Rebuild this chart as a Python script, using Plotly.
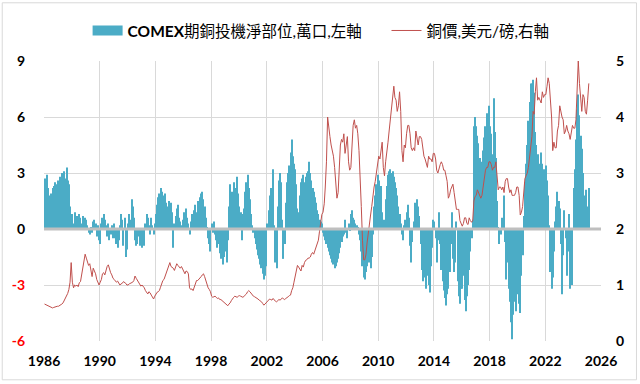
import pandas as pd
import plotly.graph_objects as go

# ---- data (monthly, Jan 1986 - Feb 2025) ----
start_month = "1986-01-01"

# COMEX copper speculative net position, 10k contracts (left axis)
net_position = [
    2.7, 2.6, 2.9, 2.2, 1.8, 1.4, 1.9, 2.2, 2.3, 2.5, 2.0, 2.4,      # 1986
    2.6, 2.8, 2.5, 3.0, 2.9, 3.1, 2.7, 3.3, 2.6, 2.4, 1.2, 0.5,      # 1987
    0.8, 0.3, 0.9, 0.5, 0.7, 0.4, 0.8, 0.6, 0.3, 0.7, 0.5, 0.6,      # 1988
    0.5, 0.2, -0.2, -0.3, 0.1, -0.2, 0.4, 0.5, 0.3, -0.4, 0.2, -0.6,  # 1989
    -0.8, 0.3, 0.6, 0.8, 0.5, 0.2, -0.4, 0.3, -0.6, -0.3, 0.2, -0.5,  # 1990
    0.3, -0.5, -0.8, -1.0, -0.6, 0.2, 0.8, 0.5, -0.9, 0.6, -1.5, -1.1,  # 1991
    0.3, 0.8, 0.5, 1.6, 1.2, 0.6, -0.6, -0.9, -0.8, -0.4, -0.9, -0.7,  # 1992
    -1.0, -0.6, -0.9, 0.3, 0.8, 0.6, 0.2, -0.3, 0.6, 0.2, -0.3, 0.3,  # 1993
    0.8, 1.3, 1.7, 1.9, 2.2, 2.0, 1.8, 1.6, 1.9, 1.4, 1.2, 1.5,      # 1994
    1.2, 1.4, 0.9, -1.0, 0.3, 0.7, 1.1, 1.3, 0.6, 0.4, 0.2, 0.5,     # 1995
    0.9, 0.2, 1.1, 0.6, 0.3, -0.3, 0.4, 0.8, 0.2, 1.0, 1.3, 0.9,     # 1996
    1.5, 1.2, 1.7, 1.9, 2.0, 1.6, 1.2, 0.6, 0.1, -0.5, -0.8, -1.2,   # 1997
    0.3, -0.2, 0.4, -0.3, -0.6, -1.0, -0.8, -1.3, -1.6, -1.1, -1.9, -1.5,  # 1998
    -1.2, -1.8, -0.6, 1.2, 2.4, 1.5, 2.0, 2.5, 1.3, 2.2, 2.8, 1.9,   # 1999
    1.2, 0.9, -0.6, 0.8, 1.1, 2.0, 2.5, 2.9, 2.2, 1.6, 0.8, 0.2,     # 2000
    -0.2, -0.5, -0.8, -1.1, -1.4, -1.6, -1.9, -2.1, -2.4, -2.7, -2.5, -2.0,  # 2001
    0.3, 1.0, 1.8, 2.2, 1.5, 3.2, 0.2, -1.8, -2.1, 1.2, 2.6, 3.0,    # 2002
    2.5, 0.5, -1.6, -0.8, 1.4, 2.5, 3.0, 3.4, 4.1, 4.8, 3.9, 3.5,    # 2003
    3.2, 2.4, 1.1, 0.9, 1.8, 2.5, 2.7, 2.9, 2.5, 2.8, 3.0, 3.1,      # 2004
    3.6, 3.0, 2.6, 2.2, 2.0, 1.7, 1.4, 1.0, 0.8, 0.5, 0.4, 0.3,      # 2005
    -0.2, -0.4, -0.6, -0.8, -1.0, -1.2, -1.4, -1.6, -1.8, -1.9, -2.1, -2.0,  # 2006
    -1.8, -1.6, -1.3, -1.0, -0.7, -0.4, -0.3, 0.5, -0.2, -0.5, 0.3, -0.1,   # 2007
    0.8, 1.0, 0.6, 0.5, 0.3, 0.2, 0.1, -0.3, -0.6, -1.2, -2.0, -2.6,  # 2008
    -2.7, -2.3, -2.0, -1.6, -1.8, -2.1, -1.5, -0.3, 1.2, 1.8, 2.4, 2.9,  # 2009
    2.6, 1.8, 2.3, 0.9, 0.1, 0.5, 1.6, 2.3, 2.9, 3.1, 3.2, 3.0,      # 2010
    3.1, 2.8, 2.5, 2.2, 1.8, 1.2, 0.8, 0.3, -0.3, -0.6, 0.2, 0.5,    # 2011
    0.9, 1.3, 0.6, -0.9, -1.8, -0.7, 0.4, 1.4, 0.8, 1.6, 1.2, 0.7,   # 2012
    -0.8, -2.2, -2.8, -2.3, -2.6, -3.2, -2.5, -3.0, -3.4, -2.0, -1.0, 0.5,  # 2013
    0.4, -0.5, -1.8, -0.6, 0.9, -0.8, -2.2, -2.8, -3.3, -3.7, -4.1, -3.5,   # 2014
    -3.2, -2.3, -0.8, 0.9, -1.6, -2.3, -1.8, 0.4, -2.8, -3.6, -4.0, -3.2,   # 2015
    -3.2, -2.5, -3.8, -4.4, -3.6, -3.0, -2.2, -1.2, -0.5, 0.5, 5.5, 6.0,    # 2016
    5.5, 5.0, 4.6, 3.8, 3.2, 3.6, 4.2, 4.9, 5.5, 6.2, 5.2, 6.6,      # 2017
    5.5, 5.1, 4.0, 7.0, 5.2, 3.8, 1.5, 0.1, -0.8, -0.3, 0.6, 0.2,    # 2018
    1.8, -0.7, -2.7, -1.8, -3.2, -3.9, -5.0, -5.9, -4.6, -3.9, -4.4, -3.5,  # 2019
    -2.8, -4.0, -4.5, -2.5, -1.4, 0.7, 2.5, 3.5, 4.5, 5.8, 6.8, 7.8,  # 2020
    7.8, 8.0, 7.3, 5.2, 4.5, 4.0, 3.5, 3.0, 4.1, 3.5, 3.2, 3.0,      # 2021
    3.4, 2.6, 1.8, 0.2, -2.3, -3.2, -2.6, -1.2, 0.4, 1.2, 2.0, 1.5,  # 2022
    1.1, -0.8, -3.5, -1.4, 1.0, -0.5, -2.5, -1.2, 0.8, -3.2, -1.6, -3.0,  # 2023
    2.2, 3.2, 4.8, 6.4, 7.2, 6.1, 5.0, 4.3, 3.0, 1.8, 1.4, 2.1,      # 2024
    1.2, 2.2,                                                          # 2025
]

# Copper price, USD/lb (right axis)
copper_price = [
    0.66, 0.65, 0.64, 0.63, 0.61, 0.60, 0.59, 0.59, 0.60, 0.61, 0.61, 0.62,  # 1986
    0.62, 0.63, 0.65, 0.66, 0.68, 0.72, 0.78, 0.82, 0.85, 0.92, 1.05, 1.40,  # 1987
    1.05, 0.95, 1.00, 0.98, 1.00, 0.97, 1.04, 1.06, 1.18, 1.30, 1.45, 1.55,  # 1988
    1.48, 1.42, 1.35, 1.38, 1.25, 1.15, 1.30, 1.25, 1.20, 1.10, 1.05, 1.00,  # 1989
    1.05, 1.10, 1.20, 1.22, 1.18, 1.28, 1.33, 1.36, 1.28, 1.22, 1.18, 1.12,  # 1990
    1.10, 1.08, 1.05, 1.07, 1.04, 1.00, 1.02, 1.03, 1.06, 1.05, 1.03, 1.00,  # 1991
    1.00, 1.02, 1.03, 1.04, 1.05, 1.08, 1.16, 1.12, 1.08, 1.04, 1.00, 0.98,  # 1992
    1.00, 0.98, 0.95, 0.90, 0.86, 0.84, 0.88, 0.86, 0.82, 0.78, 0.75, 0.80,  # 1993
    0.85, 0.87, 0.88, 0.90, 0.96, 1.02, 1.08, 1.10, 1.16, 1.22, 1.28, 1.34,  # 1994
    1.40, 1.33, 1.32, 1.30, 1.26, 1.35, 1.38, 1.35, 1.32, 1.30, 1.33, 1.28,  # 1995
    1.22, 1.20, 1.25, 1.24, 1.20, 0.95, 0.92, 0.93, 0.90, 0.96, 1.05, 1.08,  # 1996
    1.08, 1.10, 1.12, 1.15, 1.18, 1.20, 1.15, 1.08, 1.00, 0.95, 0.92, 0.88,  # 1997
    0.80, 0.78, 0.79, 0.80, 0.78, 0.76, 0.77, 0.74, 0.74, 0.72, 0.71, 0.68,  # 1998
    0.66, 0.64, 0.63, 0.66, 0.68, 0.72, 0.76, 0.78, 0.80, 0.79, 0.78, 0.80,  # 1999
    0.81, 0.80, 0.79, 0.78, 0.80, 0.82, 0.84, 0.88, 0.90, 0.88, 0.85, 0.82,  # 2000
    0.80, 0.79, 0.78, 0.76, 0.75, 0.73, 0.72, 0.70, 0.67, 0.64, 0.66, 0.68,  # 2001
    0.70, 0.72, 0.75, 0.74, 0.73, 0.76, 0.73, 0.71, 0.70, 0.72, 0.74, 0.73,  # 2002
    0.76, 0.77, 0.75, 0.74, 0.76, 0.77, 0.79, 0.81, 0.82, 0.90, 0.95, 1.05,  # 2003
    1.15, 1.30, 1.35, 1.32, 1.28, 1.25, 1.35, 1.32, 1.40, 1.44, 1.45, 1.48,  # 2004
    1.48, 1.50, 1.55, 1.58, 1.55, 1.62, 1.65, 1.72, 1.80, 1.96, 2.10, 2.26,  # 2005
    2.30, 2.45, 2.75, 3.20, 4.00, 3.75, 3.65, 3.50, 3.40, 3.30, 3.10, 2.85,  # 2006
    2.55, 2.65, 3.05, 3.50, 3.60, 3.55, 3.70, 3.35, 3.50, 3.65, 3.20, 3.05,  # 2007
    3.10, 3.55, 3.85, 3.95, 3.80, 3.85, 3.70, 3.40, 3.00, 2.40, 1.80, 1.45,  # 2008
    1.45, 1.55, 1.75, 1.95, 2.10, 2.25, 2.40, 2.65, 2.75, 2.85, 3.00, 3.20,  # 2009
    3.30, 3.25, 3.45, 3.55, 3.10, 2.95, 3.20, 3.35, 3.55, 3.75, 3.95, 4.25,  # 2010
    4.40, 4.55, 4.35, 4.30, 4.10, 4.20, 4.45, 4.10, 3.40, 3.20, 3.50, 3.45,  # 2011
    3.70, 3.85, 3.85, 3.70, 3.45, 3.40, 3.45, 3.40, 3.75, 3.60, 3.50, 3.65,  # 2012
    3.65, 3.60, 3.45, 3.30, 3.25, 3.15, 3.10, 3.30, 3.25, 3.25, 3.20, 3.35,  # 2013
    3.35, 3.25, 3.05, 3.00, 3.10, 3.15, 3.20, 3.15, 3.05, 3.05, 2.95, 2.85,  # 2014
    2.55, 2.60, 2.70, 2.75, 2.80, 2.65, 2.45, 2.35, 2.35, 2.35, 2.15, 2.10,  # 2015
    2.05, 2.10, 2.20, 2.20, 2.10, 2.08, 2.20, 2.15, 2.12, 2.15, 2.50, 2.58,  # 2016
    2.60, 2.70, 2.65, 2.60, 2.55, 2.60, 2.75, 2.95, 3.05, 3.10, 3.10, 3.20,  # 2017
    3.20, 3.15, 3.05, 3.10, 3.10, 3.20, 2.85, 2.70, 2.75, 2.75, 2.70, 2.75,  # 2018
    2.65, 2.85, 2.90, 2.90, 2.75, 2.65, 2.70, 2.60, 2.60, 2.60, 2.65, 2.75,  # 2019
    2.75, 2.60, 2.25, 2.30, 2.40, 2.60, 2.90, 2.95, 3.00, 3.10, 3.30, 3.55,  # 2020
    3.65, 4.10, 4.05, 4.45, 4.70, 4.30, 4.35, 4.30, 4.25, 4.45, 4.35, 4.40,  # 2021
    4.40, 4.55, 4.70, 4.60, 4.30, 4.00, 3.40, 3.55, 3.45, 3.45, 3.75, 3.85,  # 2022
    4.20, 4.05, 4.00, 3.95, 3.70, 3.75, 3.85, 3.75, 3.70, 3.60, 3.75, 3.85,  # 2023
    3.80, 3.80, 3.95, 4.40, 5.00, 4.60, 4.30, 4.10, 4.40, 4.35, 4.10, 4.05,  # 2024
    4.30, 4.60,                                                              # 2025
]

x_tick_years = ["1986", "1990", "1994", "1998", "2002", "2006", "2010",
                "2014", "2018", "2022", "2026"]
left_ticks = [-6, -3, 0, 3, 6, 9]
right_ticks = [0, 1, 2, 3, 4, 5]

NBSP = "\u00a0"
bar_name = "<b>COMEX</b>期銅投機淨部位,萬口,左軸" + NBSP * 5
line_name = "銅價,美元/磅,右軸"

# ---- figure ----
dates = pd.date_range(start_month, periods=len(net_position), freq="MS") + pd.Timedelta(days=14)

BAR_COLOR = "#4BACC6"
LINE_COLOR = "#C0504D"
GRID = "#D9D9D9"
FONT = "Lato, 'Noto Sans CJK TC', sans-serif"

fig = go.Figure()
fig.add_trace(go.Bar(x=dates, y=net_position, marker=dict(color=BAR_COLOR, line=dict(width=0)),
                     showlegend=False, yaxis="y"))
# legend proxy for the bar series (wide swatch)
fig.add_trace(go.Scatter(x=[None], y=[None], mode="lines", name=bar_name,
                         line=dict(color=BAR_COLOR, width=10), yaxis="y"))
fig.add_trace(go.Scatter(x=dates, y=copper_price, mode="lines", name=line_name,
                         line=dict(color=LINE_COLOR, width=1), yaxis="y2"))

left_text = [f'<span style="color:#FF0000">{v}</span>' if v < 0 else str(v) for v in left_ticks]

TICKFONT = dict(size=14, family=FONT, weight="bold", color="#000000")

fig.update_layout(
    width=640, height=384,
    margin=dict(l=44, r=39, t=61, b=43),
    paper_bgcolor="white", plot_bgcolor="white",
    bargap=0.05,
    font=dict(family=FONT, color="#000000"),
    showlegend=True,
    legend=dict(orientation="h", x=0.4975, xanchor="center", y=1.1075, yanchor="middle",
                font=dict(size=15.5, family=FONT), itemwidth=30, bgcolor="rgba(0,0,0,0)",
                traceorder="normal"),
    xaxis=dict(type="date", range=["1986-01-01", "2026-01-01"],
               tickvals=[f"{y}-01-01" for y in x_tick_years], ticktext=x_tick_years,
               showgrid=True, gridcolor=GRID, gridwidth=1, zeroline=False, showline=False,
               ticks="", ticklabelstandoff=10, tickfont=TICKFONT),
    yaxis=dict(range=[-6, 9], tickvals=left_ticks, ticktext=left_text,
               showgrid=True, gridcolor=GRID, gridwidth=1, zeroline=False, showline=False,
               ticks="", ticklabelstandoff=18, tickfont=TICKFONT),
    yaxis2=dict(range=[0, 5], tickvals=right_ticks, overlaying="y", side="right",
                showgrid=False, zeroline=False, showline=False, ticks="", ticklabelstandoff=14,
                tickfont=TICKFONT),
    shapes=[
        dict(type="line", xref="paper", x0=0, x1=1, yref="y", y0=0, y1=0,
             line=dict(color="#BFBFBF", width=3), layer="above"),
        dict(type="rect", xref="paper", yref="paper", x0=-0.0750, x1=1.0637,
             y0=-0.1386, y1=1.2079, line=dict(color="#D9D9D9", width=1), layer="below"),
    ],
)

fig.write_html("out.html", config={"displayModeBar": False},
               post_script="document.body.style.margin='0';")
